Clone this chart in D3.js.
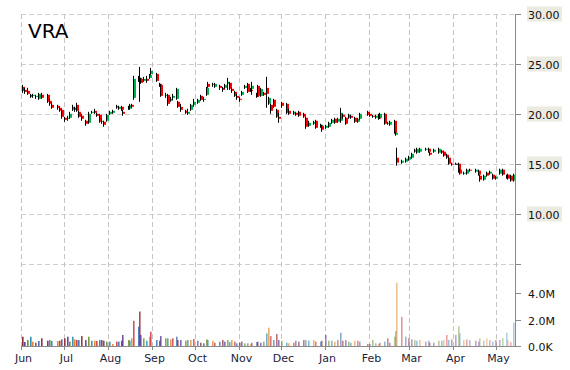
<!DOCTYPE html>
<html>
<head>
<meta charset="utf-8">
<script src="https://cdn.jsdelivr.net/npm/d3@7"></script>
<style>
  body { margin: 0; background: #fff; }
  text { font-family: "DejaVu Sans", Verdana, sans-serif; }
</style>
</head>
<body>
<script>
// daily bars
const dates = [
  "2014-06-02","2014-06-03","2014-06-05","2014-06-07","2014-06-09","2014-06-11","2014-06-13","2014-06-15","2014-06-19","2014-06-21",
  "2014-06-22","2014-06-26","2014-06-28","2014-06-29","2014-07-01","2014-07-03","2014-07-05","2014-07-07","2014-07-08","2014-07-10",
  "2014-07-11","2014-07-13","2014-07-16","2014-07-18","2014-07-20","2014-07-22","2014-07-24","2014-07-26","2014-07-27","2014-07-29",
  "2014-07-31","2014-08-02","2014-08-04","2014-08-07","2014-08-08","2014-08-10","2014-08-11","2014-08-15","2014-08-16","2014-08-17",
  "2014-08-19","2014-08-22","2014-08-23","2014-08-24","2014-08-26","2014-08-28","2014-08-30","2014-08-31","2014-09-04","2014-09-06",
  "2014-09-07","2014-09-10","2014-09-12","2014-09-14","2014-09-15","2014-09-18","2014-09-19","2014-09-21","2014-09-24","2014-09-26",
  "2014-09-28","2014-09-30","2014-10-03","2014-10-05","2014-10-07","2014-10-09","2014-10-10","2014-10-13","2014-10-15","2014-10-18",
  "2014-10-20","2014-10-22","2014-10-24","2014-10-25","2014-10-27","2014-10-29","2014-10-30","2014-11-01","2014-11-03","2014-11-05",
  "2014-11-07","2014-11-09","2014-11-10","2014-11-13","2014-11-14","2014-11-16","2014-11-18","2014-11-20","2014-11-22","2014-11-23",
  "2014-11-25","2014-11-27","2014-11-29","2014-12-01","2014-12-04","2014-12-06","2014-12-09","2014-12-11","2014-12-13","2014-12-16",
  "2014-12-18","2014-12-20","2014-12-23","2014-12-25","2014-12-28","2014-12-29","2015-01-01","2015-01-03","2015-01-05","2015-01-07",
  "2015-01-09","2015-01-11","2015-01-13","2015-01-15","2015-01-17","2015-01-18","2015-01-21","2015-01-23","2015-01-25","2015-01-30",
  "2015-02-01","2015-02-03","2015-02-05","2015-02-07","2015-02-08","2015-02-11","2015-02-13","2015-02-15","2015-02-18","2015-02-19",
  "2015-02-20","2015-02-23","2015-02-26","2015-02-28","2015-03-02","2015-03-04","2015-03-06","2015-03-08","2015-03-12","2015-03-14",
  "2015-03-15","2015-03-18","2015-03-21","2015-03-23","2015-03-25","2015-03-27","2015-03-28","2015-03-30","2015-04-02","2015-04-04",
  "2015-04-05","2015-04-08","2015-04-10","2015-04-12","2015-04-16","2015-04-18","2015-04-19","2015-04-22","2015-04-24","2015-04-26",
  "2015-04-28","2015-04-30","2015-05-03","2015-05-05","2015-05-08","2015-05-09","2015-05-11","2015-05-13"
]
const open = [
  22.7,22.4,22.3,21.9,21.8,21.7,21.5,21.9,21.9,21.3, 20.9,20.8,20.6,20.4,19.6,19.5,19.6,20.4,20.6,20.9,
  20.2,19.8,19.3,19.1,20.1,20.3,20.0,19.9,19.2,19.2, 19.3,20.0,20.1,20.6,20.5,20.7,20.2,20.6,20.5,20.9,
  21.6,23.4,23.6,23.5,23.3,23.5,23.6,24.0,24.0,23.0, 22.9,21.8,21.9,21.3,21.6,21.5,21.2,20.7,20.3,20.0,
  20.4,20.9,21.1,21.8,21.4,21.9,23.0,22.9,22.7,22.8, 22.6,22.6,23.0,23.1,22.5,22.2,21.8,21.5,21.9,22.6,
  23.0,22.4,22.5,22.0,22.8,21.8,22.1,22.6,21.0,20.9, 21.4,20.4,19.7,21.1,21.0,20.3,20.0,20.1,20.2,20.0,
  19.6,18.8,19.0,19.3,18.7,18.8,18.6,18.7,19.1,19.5, 19.2,19.3,19.9,19.6,19.6,19.8,19.6,19.2,19.5,20.2,
  20.0,19.8,19.6,19.9,19.6,20.0,19.0,18.9,19.3,17.9, 15.6,15.1,15.2,15.4,15.6,16.2,16.1,16.2,16.4,16.5,
  16.1,16.2,16.1,16.3,16.2,15.9,15.6,15.0,15.0,15.0, 14.4,14.0,14.0,14.4,14.2,14.3,13.8,13.4,14.1,14.0,
  13.9,13.5,14.0,14.4,13.8,13.9,13.8,13.3
]
const high = [
  22.9,22.6,22.6,22.0,22.0,21.9,22.1,22.1,22.0,21.5, 21.1,20.9,20.7,20.5,19.7,19.8,20.2,20.9,20.7,21.1,
  20.3,20.0,19.4,20.2,20.3,20.5,20.1,20.0,19.5,19.3, 20.0,20.3,20.4,20.9,20.8,20.8,20.4,20.8,21.0,21.0,
  23.8,23.8,24.7,23.6,23.7,23.8,24.0,24.6,24.1,23.1, 23.0,22.1,22.0,21.7,22.0,22.6,21.3,21.0,20.4,20.5,
  21.0,21.5,21.5,21.9,21.7,22.7,23.2,23.1,23.1,22.9, 22.7,23.0,23.6,23.2,22.6,22.3,22.0,21.7,22.3,22.9,
  23.1,22.6,23.2,22.1,22.9,22.6,22.2,23.7,21.7,21.0, 21.5,20.5,20.1,21.2,21.1,20.5,20.3,20.2,20.3,20.1,
  19.7,19.3,19.3,19.4,19.0,18.9,18.9,19.2,19.5,19.6, 19.6,20.6,20.0,19.7,20.0,19.9,19.7,19.6,20.1,20.3,
  20.1,19.9,19.9,20.0,20.1,20.1,19.2,19.3,19.4,18.2, 16.6,15.4,15.6,15.8,16.1,16.5,16.6,16.6,16.6,16.6,
  16.2,16.5,16.6,16.4,16.3,16.0,15.7,15.1,15.1,15.1, 14.5,14.2,14.5,14.5,14.5,14.4,13.9,13.9,14.2,14.3,
  14.0,13.8,14.5,14.5,13.9,14.0,13.9,14.0
]
const low = [
  22.1,22.0,21.9,21.6,21.6,21.5,21.4,21.5,21.1,20.8, 20.5,20.4,20.2,19.5,19.2,19.3,19.5,20.3,20.2,20.2,
  19.6,19.3,18.8,19.0,20.0,20.0,19.7,19.1,19.0,18.7, 19.2,19.9,20.0,20.5,20.4,20.3,19.8,20.4,20.4,20.6,
  21.4,23.2,21.2,23.0,23.2,23.1,23.5,23.9,23.2,22.7, 21.7,21.6,20.8,21.2,21.4,21.4,20.6,20.2,20.0,19.9,
  20.3,20.7,21.0,21.3,21.2,21.8,22.6,22.7,22.6,22.4, 22.2,22.5,22.4,22.4,22.1,21.7,21.4,21.2,21.8,22.5,
  22.1,22.2,21.9,21.6,21.7,21.7,21.8,20.6,20.9,20.0, 20.6,19.6,19.1,20.6,20.0,19.9,19.9,19.8,19.7,19.6,
  18.5,18.7,18.9,18.5,18.6,18.2,18.5,18.6,19.0,19.0, 19.1,19.1,19.5,18.9,19.5,19.5,19.1,19.1,19.4,19.8,
  19.7,19.6,19.5,19.4,19.5,18.9,18.9,18.8,18.0,17.8, 14.8,15.0,15.1,15.3,15.5,16.1,16.0,16.1,16.3,16.1,
  15.8,16.1,16.0,16.0,15.7,15.5,14.9,14.8,14.9,14.1, 13.9,13.9,13.9,14.2,14.1,13.8,13.2,13.3,13.7,13.9,
  13.4,13.4,13.9,13.8,13.5,13.4,13.2,13.2
]
const close = [
  22.3,22.2,22.0,21.7,21.9,21.8,22.0,21.6,21.2,21.0, 20.6,20.6,20.3,19.7,19.4,19.6,20.0,20.7,20.4,20.3,
  19.7,19.5,19.0,20.0,20.2,20.1,19.8,19.2,19.3,18.9, 19.9,20.2,20.3,20.8,20.7,20.4,20.0,20.7,20.9,20.7,
  23.5,23.6,23.2,23.1,23.5,23.3,23.9,24.3,23.3,22.8, 21.8,21.9,21.0,21.5,21.8,22.5,20.7,20.4,20.1,20.2,
  20.9,21.2,21.4,21.4,21.5,22.6,22.7,23.0,23.0,22.6, 22.4,22.9,23.2,22.5,22.3,21.8,21.6,21.4,22.2,22.8,
  22.2,22.3,22.8,21.7,21.8,22.5,21.9,22.0,21.6,20.3, 20.7,19.7,19.5,20.8,20.1,20.0,20.2,19.9,19.8,19.7,
  18.7,19.1,19.2,18.6,18.9,18.4,18.8,19.1,19.4,19.1, 19.5,20.1,19.7,19.0,19.9,19.6,19.2,19.5,20.0,19.9,
  19.8,19.7,19.8,19.5,20.0,19.0,19.1,19.2,18.1,18.1, 15.1,15.3,15.5,15.7,16.0,16.4,16.5,16.5,16.5,16.2,
  15.9,16.4,16.5,16.1,15.8,15.6,15.0,14.9,15.0,14.2, 14.0,14.1,14.4,14.3,14.4,13.9,13.4,13.8,13.8,14.2,
  13.5,13.7,14.4,13.9,13.6,13.5,13.3,13.9
]
// volume in millions
const volume = [
  0.7,0.3,0.45,0.7,0.33,0.25,0.38,0.58,0.4,0.45, 0.38,0.38,0.4,0.5,0.58,0.7,0.33,0.7,0.5,0.45,
  0.45,0.75,0.45,0.7,0.4,0.4,0.38,0.45,0.45,0.4, 0.33,0.33,0.15,0.33,0.33,0.4,0.83,0.45,0.4,0.58,
  1.9,1.46,2.6,0.83,0.58,0.4,0.7,1.08,0.45,0.4, 0.75,0.58,0.58,0.5,0.58,0.7,0.45,0.45,0.4,0.45,
  0.45,0.53,0.4,0.25,0.2,0.5,0.45,0.4,0.25,0.33, 0.45,0.33,0.45,0.3,0.45,0.33,0.2,0.25,0.33,0.2,
  0.2,0.15,0.25,0.3,0.33,0.25,0.33,0.95,1.38,0.75, 0.45,0.9,0.45,0.4,0.25,0.2,0.25,0.4,0.33,0.45,
  0.45,0.4,0.45,0.33,0.33,0.4,0.83,0.4,0.4,0.33, 0.45,1.0,0.4,0.45,0.33,0.25,0.4,0.4,0.33,0.15,
  0.15,0.45,0.2,0.15,0.25,0.33,0.58,0.25,0.7,1.13, 4.78,2.2,0.7,0.58,0.5,0.45,0.4,0.45,0.33,0.4,
  0.25,0.25,0.4,0.4,0.45,0.83,0.45,0.5,0.83,1.5, 0.95,0.45,0.5,0.45,0.4,0.33,0.58,0.4,0.58,0.45,
  0.33,0.45,0.45,0.58,1.0,0.45,0.3,1.76
]
const priceTicks = [5, 10, 15, 20, 25, 30]
const volumeTicks = [0, 2, 4]
const volColors = ["#8e2d3a", "#5b3d96", "#6f8f2e", "#2d8fb5", "#e0862b", "#c8383a", "#3d6cb0"]

const w = 570
const h = 370
const left = 21
const right = 515

const parseDate = d3.utcParse("%Y-%m-%d")
const data = dates.map((d, i) => ({
  date: parseDate(d), o: open[i], h: high[i], l: low[i], c: close[i], v: volume[i]
}))

const svg = d3.select("body")
              .append("svg")
              .attr("width", w)
              .attr("height", h)

const xScale = d3.scaleUtc()
                 .domain([new Date(Date.UTC(2014, 5, 1)), new Date(Date.UTC(2015, 4, 14, 8))])
                 .range([left, right])
const yScale = d3.scaleLinear().domain([5, 30]).range([263.5, 14])
const vScale = d3.scaleLinear().domain([0, 4]).range([346, 293])

const months = d3.utcMonths(new Date(Date.UTC(2014, 5, 1)), new Date(Date.UTC(2015, 4, 14)))

//grid
svg.append("g")
   .selectAll("line")
   .data(priceTicks)
   .enter()
   .append("line")
   .attr("x1", left).attr("x2", right)
   .attr("y1", d => Math.round(yScale(d)) + 0.5)
   .attr("y2", d => Math.round(yScale(d)) + 0.5)
   .attr("stroke", "#cfcfcf")
   .attr("stroke-dasharray", "5,3")

svg.append("g")
   .selectAll("line")
   .data(months)
   .enter()
   .append("line")
   .attr("x1", d => Math.round(xScale(d)) + 0.5)
   .attr("x2", d => Math.round(xScale(d)) + 0.5)
   .attr("y1", 14).attr("y2", 346)
   .attr("stroke", "#c4c4c4")
   .attr("stroke-dasharray", "5,3")

//volume bars
const n = data.length
svg.append("g")
   .selectAll("rect")
   .data(data)
   .enter()
   .append("rect")
   .attr("x", d => Math.round(xScale(d.date)))
   .attr("y", d => vScale(d.v))
   .attr("width", 1.6)
   .attr("height", d => vScale(0) - vScale(d.v))
   .attr("fill", (d, i) => volColors[i % volColors.length])
   .attr("opacity", (d, i) => 1 - 0.62 * i / (n - 1))

//candles
const candles = svg.append("g")
candles.selectAll("rect")
       .data(data)
       .enter()
       .append("rect")
       .attr("x", d => Math.round(xScale(d.date)) + 1)
       .attr("y", d => yScale(Math.max(d.o, d.c)))
       .attr("width", 2)
       .attr("height", d => Math.max(1, Math.abs(yScale(d.o) - yScale(d.c))))
       .attr("fill", d => d.c > d.o ? "#00b050" : (d.c < d.o ? "#ff0000" : "#000"))
candles.selectAll("line")
       .data(data)
       .enter()
       .append("line")
       .attr("x1", d => Math.round(xScale(d.date)) + 0.5)
       .attr("x2", d => Math.round(xScale(d.date)) + 0.5)
       .attr("y1", d => yScale(d.h))
       .attr("y2", d => yScale(d.l))
       .attr("stroke", "#000")
       .attr("stroke-width", 1)

//axes
svg.append("line")
   .attr("x1", right + 0.5).attr("x2", right + 0.5)
   .attr("y1", 14).attr("y2", 347)
   .attr("stroke", "#8a8a8a")
svg.append("line")
   .attr("x1", left).attr("x2", right + 1)
   .attr("y1", 346.5).attr("y2", 346.5)
   .attr("stroke", "#8a8a8a")

// price labels on the right
const pLab = svg.append("g")
                .selectAll("g")
                .data(priceTicks)
                .enter()
                .append("g")
                .attr("transform", d => "translate(0," + (Math.round(yScale(d)) + 0.5) + ")")
pLab.append("line")
    .attr("x1", right).attr("x2", right + 6)
    .attr("stroke", "#8a8a8a")
pLab.filter(d => d >= 10)
    .append("rect")
    .attr("x", 527).attr("y", -8)
    .attr("width", 35).attr("height", 15)
    .attr("fill", "#ecebe2")
pLab.filter(d => d >= 10)
    .append("text")
    .attr("x", 528).attr("y", 4)
    .attr("font-size", 11)
    .attr("fill", "#111")
    .text(d => d3.format(".2f")(d))

// volume labels
const vLab = svg.append("g")
                .selectAll("g")
                .data(volumeTicks)
                .enter()
                .append("g")
                .attr("transform", d => "translate(0," + (Math.round(vScale(d)) + 0.5) + ")")
vLab.append("line")
    .attr("x1", right).attr("x2", right + 6)
    .attr("stroke", "#8a8a8a")
vLab.append("text")
    .attr("x", 528).attr("y", 4)
    .attr("font-size", 11)
    .attr("fill", "#111")
    .text(d => d == 0 ? "0.0K" : d.toFixed(1) + "M")

// month labels
const mLab = svg.append("g")
                .selectAll("g")
                .data(months)
                .enter()
                .append("g")
                .attr("transform", d => "translate(" + (Math.round(xScale(d)) + 0.5) + ",0)")
mLab.append("line")
    .attr("y1", 346).attr("y2", 350)
    .attr("stroke", "#8a8a8a")
mLab.append("text")
    .attr("x", 2).attr("y", 362)
    .attr("text-anchor", "middle")
    .attr("font-size", 11)
    .attr("fill", "#1c1c3a")
    .text(d => d3.utcFormat("%b")(d))

//title
svg.append("text")
   .attr("x", 28)
   .attr("y", 38)
   .attr("font-size", 20)
   .attr("fill", "#000")
   .text("VRA")
</script>
</body>
</html>
